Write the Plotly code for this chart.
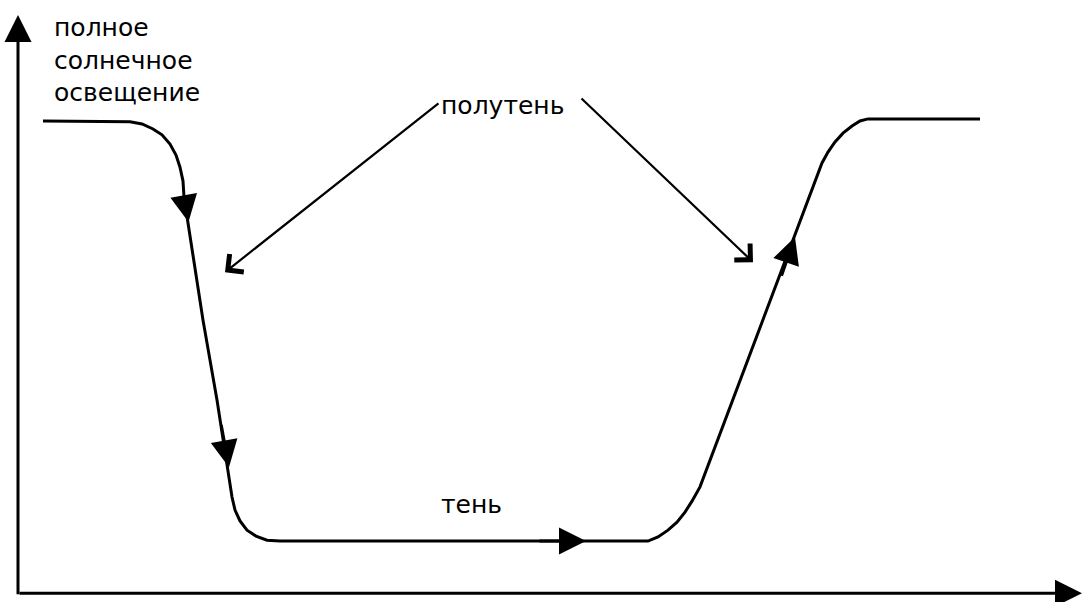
import plotly.graph_objects as go

# illumination curve: time (arb. units) vs illumination level (% of full sunlight)
time = [2.5, 11.2, 12.4, 13.5, 14.4, 15.2, 15.8, 16.2, 16.5, 16.6, 18.5, 19.9,
        21.4, 21.7, 22.2, 22.9, 23.8, 24.9, 26.2,
        63.0, 64.0, 65.0, 65.9, 66.7, 67.4, 68.2,
        80.4, 81.0, 81.7, 82.5, 83.4, 84.2, 85.0, 96.2]
level = [100.0, 99.8, 99.3, 98.1, 96.7, 94.5, 91.9, 89.0, 85.7, 81.9, 52.6, 33.6,
         10.5, 7.4, 4.8, 2.6, 1.2, 0.2, 0.0,
         0.0, 1.0, 2.6, 4.5, 6.9, 9.5, 12.9,
         90.0, 92.6, 95.0, 97.1, 98.8, 100.0, 100.5, 100.5]

# direction arrows along the curve (tail -> tip)
dir_tail_t = [16.6, 20.3, 52.0, 76.3]
dir_tail_l = [81.9, 28.0, 0.0, 62.8]
dir_tip_t = [17.05, 21.1, 56.8, 77.7]
dir_tip_l = [75.95, 17.6, 0.0, 72.4]

# "полутень" pointers
pen_tail_t = [42.2, 56.2]
pen_tail_l = [104.5, 105.7]
pen_tip_t = [20.7, 73.5]
pen_tip_l = [64.0, 66.4]

# axis lines
x_range = [-1.8, 106.5]
y_range = [-14.5, 128.8]
axis_y_level = -12.4
y_axis_top = 125.2
x_axis_end = 106.4

font = {"family": "DejaVu Sans", "size": 25, "color": "black"}

fig = go.Figure().add_trace(
    go.Scatter(
        x = time,
        y = level,
        mode = "lines",
        line = {"color": "black", "width": 3},
        hoverinfo = "skip",
    )
)

annotations = []

# axes with arrows
annotations.append(dict(
    x = 0, y = y_axis_top, ax = 0, ay = axis_y_level - 0.6,
    xref = "x", yref = "y", axref = "x", ayref = "y",
    text = "", showarrow = True, arrowhead = 2, arrowsize = 1.8, arrowwidth = 3,
    arrowcolor = "black",
))
annotations.append(dict(
    x = x_axis_end, y = axis_y_level, ax = 0, ay = axis_y_level,
    xref = "x", yref = "y", axref = "x", ayref = "y",
    text = "", showarrow = True, arrowhead = 2, arrowsize = 1.8, arrowwidth = 3,
    arrowcolor = "black",
))

for i in range(len(dir_tail_t)):
    annotations.append(dict(
        x = dir_tip_t[i], y = dir_tip_l[i], ax = dir_tail_t[i], ay = dir_tail_l[i],
        xref = "x", yref = "y", axref = "x", ayref = "y",
        text = "", showarrow = True, arrowhead = 2, arrowsize = 1.8, arrowwidth = 3,
        arrowcolor = "black",
    ))

for i in range(len(pen_tail_t)):
    annotations.append(dict(
        x = pen_tip_t[i], y = pen_tip_l[i], ax = pen_tail_t[i], ay = pen_tail_l[i],
        xref = "x", yref = "y", axref = "x", ayref = "y",
        text = "", showarrow = True, arrowhead = 4, arrowsize = 2.0, arrowwidth = 2.2,
        arrowcolor = "black",
    ))

annotations.append(dict(
    x = 3.4, y = 114.5, xref = "x", yref = "y", xanchor = "left", yanchor = "middle",
    align = "left", showarrow = False, font = font,
    text = "полное<br>солнечное<br>освещение",
))
annotations.append(dict(
    x = 48.4, y = 103.6, xref = "x", yref = "y", xanchor = "center", yanchor = "middle",
    showarrow = False, font = font, text = "полутень",
))
annotations.append(dict(
    x = 45.3, y = 8.6, xref = "x", yref = "y", xanchor = "center", yanchor = "middle",
    showarrow = False, font = font, text = "тень",
))

fig.update_layout(
    width = 1083,
    height = 602,
    margin = {"l": 0, "r": 0, "t": 0, "b": 0, "pad": 0},
    paper_bgcolor = "white",
    plot_bgcolor = "white",
    showlegend = False,
    xaxis = {"range": x_range, "visible": False, "showgrid": False, "zeroline": False},
    yaxis = {"range": y_range, "visible": False, "showgrid": False, "zeroline": False},
    annotations = annotations,
)

fig.write_html(
    "out.html",
    config = {"displayModeBar": False},
    post_script = "document.body.style.margin='0';",
)
